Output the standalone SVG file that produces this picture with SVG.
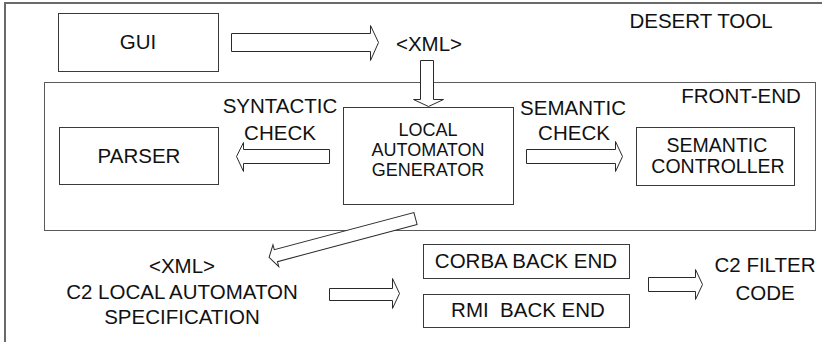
<svg xmlns="http://www.w3.org/2000/svg" width="822" height="342" viewBox="0 0 822 342">
  <style>
    .frame { fill: none; stroke: #6a6a6a; stroke-width: 2; }
    .group { fill: none; stroke: #5a5a5a; stroke-width: 1; }
    .box { fill: #ffffff; stroke: #3a3a3a; stroke-width: 1; }
    .arrow { fill: #ffffff; stroke: #2a2a2a; stroke-width: 1; stroke-linejoin: miter; }
    text { font-family: "Liberation Sans", Arial, sans-serif; font-size: 20.5px; fill: #111111; text-anchor: middle; white-space: pre; }
    .small { font-size: 18px; }
    .mid { font-size: 19.5px; }
  </style>

  <!-- outer frame: top and left edges only within view -->
  <path class="frame" d="M5,342 V3 H822"/>

  <!-- front-end grouping box -->
  <g id="front-end">
    <rect class="group" x="44.5" y="82.5" width="771" height="148"/>
    <text x="741" y="103">FRONT-END</text>
  </g>

  <g id="desert-tool">
    <text x="701" y="28">DESERT TOOL</text>
  </g>

  <g id="gui">
    <rect class="box" x="58.5" y="13.5" width="160" height="58"/>
    <text x="138" y="49">GUI</text>
  </g>

  <g id="xml-top">
    <text x="429" y="51">&lt;XML&gt;</text>
  </g>

  <g id="parser">
    <rect class="box" x="59.5" y="127.5" width="159" height="57"/>
    <text x="139" y="163">PARSER</text>
  </g>

  <g id="local-automaton-generator">
    <rect class="box" x="343.5" y="107.5" width="170" height="97"/>
    <text class="small" x="428" y="136">LOCAL</text>
    <text class="small" x="428" y="156">AUTOMATON</text>
    <text class="small" x="428" y="176">GENERATOR</text>
  </g>

  <g id="semantic-controller">
    <rect class="box" x="636.5" y="127.5" width="158" height="58"/>
    <text class="mid" x="717" y="152">SEMANTIC</text>
    <text class="mid" x="718" y="173">CONTROLLER</text>
  </g>

  <g id="c2-spec">
    <text x="182" y="273">&lt;XML&gt;</text>
    <text x="182" y="299">C2 LOCAL AUTOMATON</text>
    <text x="182" y="324">SPECIFICATION</text>
  </g>

  <g id="corba-back-end">
    <rect class="box" x="423.5" y="244.5" width="206" height="34"/>
    <text x="526" y="268">CORBA BACK END</text>
  </g>

  <g id="rmi-back-end">
    <rect class="box" x="423.5" y="294.5" width="206" height="33"/>
    <text x="528" y="317">RMI  BACK END</text>
  </g>

  <g id="c2-filter-code">
    <text x="765" y="272">C2 FILTER</text>
    <text x="765" y="300">CODE</text>
  </g>

  <!-- block arrows and their labels -->
  <g id="connectors">
    <polygon class="arrow" points="231.5,33.5 370.5,33.5 370.5,25.5 378.5,42.5 370.5,60.5 370.5,51.5 231.5,51.5"/>
    <polygon class="arrow" points="420.5,60.5 433.5,60.5 433.5,99.5 443.5,99.5 428.5,106.5 413.5,99.5 420.5,99.5"/>
    <polygon class="arrow" points="329.5,149.5 243.5,149.5 243.5,142.5 236.5,156.5 243.5,171.5 243.5,163.5 329.5,163.5"/>
    <text x="280" y="113">SYNTACTIC</text>
    <text x="280" y="140">CHECK</text>
    <polygon class="arrow" points="526.5,149.5 615.5,149.5 615.5,141.5 622.5,156.5 615.5,171.5 615.5,163.5 526.5,163.5"/>
    <text x="573" y="115">SEMANTIC</text>
    <text x="574" y="140">CHECK</text>
    <!-- slanted arrow from the generator down to the XML specification -->
    <polygon class="arrow" transform="translate(415.5,218.5) rotate(165.1)" points="0,-6.2 144.5,-6.2 144.5,-11.3 151.5,0 144.5,11.3 144.5,6.2 0,6.2"/>
    <polygon class="arrow" points="329.5,288.5 392.5,288.5 392.5,278.5 399.5,293.5 392.5,308.5 392.5,300.5 329.5,300.5"/>
    <polygon class="arrow" points="648.5,277.5 695.5,277.5 695.5,269.5 702.5,284.5 695.5,299.5 695.5,291.5 648.5,291.5"/>
  </g>
</svg>
